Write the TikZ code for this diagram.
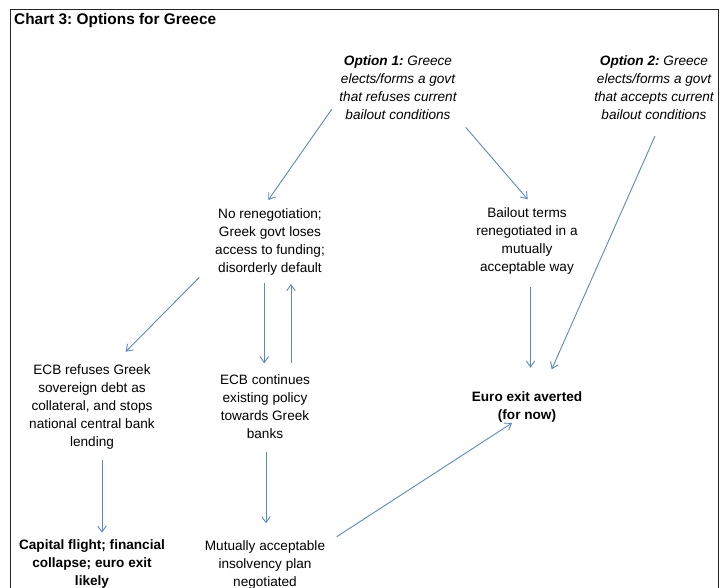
\documentclass[tikz,border=0pt]{standalone}
\usepackage{fontspec}
\setmainfont{Liberation Sans}
\frenchspacing
\usetikzlibrary{arrows.meta}
\definecolor{arrblue}{RGB}{90,138,196}
\begin{document}
\begin{tikzpicture}[x=1pt,y=-1pt,
  lbl/.style={inner sep=0pt,align=center,font=\fontsize{13.6}{18}\selectfont},
  blbl/.style={lbl,font=\fontsize{13.6}{18}\selectfont\bfseries},
  arr/.style={draw=arrblue,line width=0.9pt,-{Straight Barb[length=6pt,width=8.5pt]}}]
\useasboundingbox (0,0) rectangle (722,588);
\fill[white] (0,0) rectangle (722,588);
\draw[line width=0.9pt,black!85] (10,600) -- (10,9.5) -- (718,9.5) -- (718,600);
\node[inner sep=0pt,anchor=base west,font=\fontsize{15.4}{18}\selectfont\bfseries] (title) at (14,25) {Chart 3: Options for Greece};
\node[lbl,font=\fontsize{13.6}{18}\selectfont\itshape] (opt1) at (398,88) {\textbf{Option 1:} Greece\\elects/forms a govt\\that refuses current\\bailout conditions};
\node[lbl,font=\fontsize{13.6}{18}\selectfont\itshape] (opt2) at (654,88) {\textbf{Option 2:} Greece\\elects/forms a govt\\that accepts current\\bailout conditions};
\node[lbl] (noreneg) at (270,242) {No renegotiation;\\Greek govt loses\\access to funding;\\disorderly default};
\node[lbl] (terms) at (527,241) {Bailout terms\\renegotiated in a\\mutually\\acceptable way};
\node[lbl] (ecbref) at (92,407) {ECB refuses Greek\\sovereign debt as\\collateral, and stops\\national central bank\\lending};
\node[lbl] (ecbcont) at (265,407) {ECB continues\\existing policy\\towards Greek\\banks};
\node[blbl] (averted) at (527,407) {Euro exit averted\\(for now)};
\node[blbl] (capital) at (92,564) {Capital flight; financial\\collapse; euro exit\\likely};
\node[lbl] (mutual) at (265,565) {Mutually acceptable\\insolvency plan\\negotiated};
\draw[arr] ([shift={(-66.3,21.3)}]opt1.center) -- ([shift={(-1.7,-42)}]noreneg.center);
\draw[arr] ([shift={(67.7,39.3)}]opt1.center) -- ([shift={(0.7,-41.7)}]terms.center);
\draw[arr] ([shift={(1,48)}]opt2.center) -- ([shift={(24.7,-37.7)}]averted.center);
\draw[arr] ([shift={(3.5,46)}]terms.center) -- ([shift={(3.5,-39.3)}]averted.center);
\draw[arr] ([shift={(-70.7,35.3)}]noreneg.center) -- ([shift={(33.7,-55.3)}]ecbref.center);
\draw[arr] ([shift={(-5.7,41.3)}]noreneg.center) -- ([shift={(-0.7,-43.7)}]ecbcont.center);
\draw[arr] ([shift={(26,-44.3)}]ecbcont.center) -- ([shift={(21,42)}]noreneg.center);
\draw[arr] ([shift={(10,53)}]ecbref.center) -- ([shift={(10,-31.3)}]capital.center);
\draw[arr] ([shift={(1,45)}]ecbcont.center) -- ([shift={(1,-41.7)}]mutual.center);
\draw[arr] ([shift={(71.7,-28.3)}]mutual.center) -- ([shift={(-15,16)}]averted.center);
\end{tikzpicture}
\end{document}
